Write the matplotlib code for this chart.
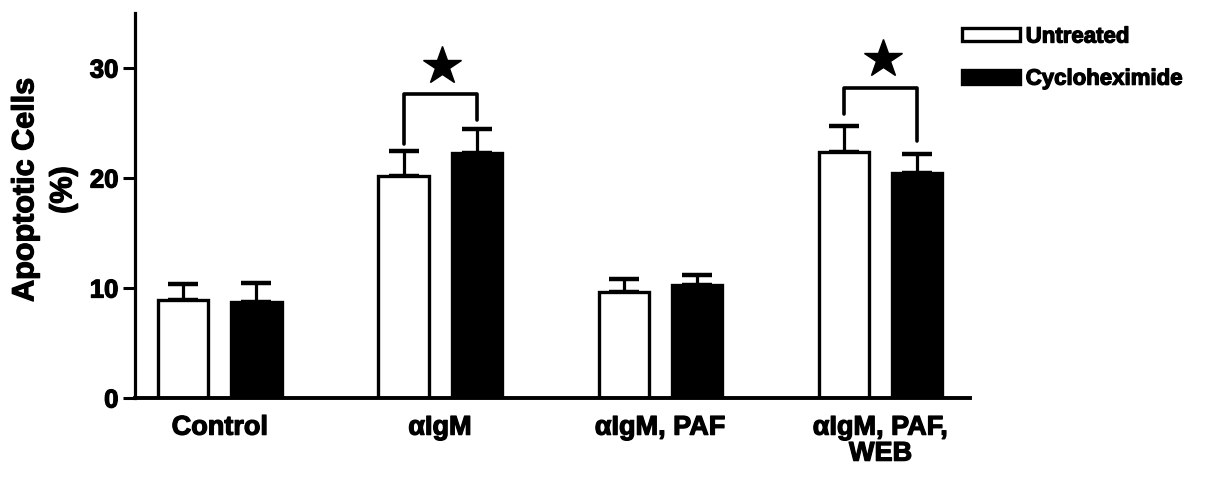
import numpy as np
import matplotlib
matplotlib.use("Agg")
import matplotlib.pyplot as plt
import matplotlib.patheffects as pe

plt.rcParams['font.family'] = ['Liberation Sans', 'DejaVu Sans']
plt.rcParams['font.weight'] = 'bold'

# Data
groups = ["Control", "\u03b1IgM", "\u03b1IgM, PAF", "\u03b1IgM, PAF,\nWEB"]
untreated = [8.9, 20.2, 9.6, 22.4]
untreated_err = [1.5, 2.3, 1.25, 2.35]
cyclo = [8.7, 22.3, 10.25, 20.5]
cyclo_err = [1.8, 2.2, 0.95, 1.7]

# significance brackets: group index, left foot, right foot, top, star height
brackets = [(1, 23.1, 25.3, 27.65, 30.2),
            (3, 25.8, 23.4, 28.2, 30.8)]

x = np.arange(len(groups))
off = 0.166
width = 0.228

heavy = [pe.withStroke(linewidth=0.9, foreground='black')]

fig = plt.figure(figsize=(12.06, 4.83), dpi=100)
ax = fig.add_axes([0.112, 0.176, 0.692, 0.797])

lw = 2.4
ax.bar(x - off, untreated, width, color='white', edgecolor='black', linewidth=lw,
       label='Untreated', zorder=2)
ax.bar(x + off, cyclo, width, color='black', edgecolor='black', linewidth=lw,
       label='Cycloheximide', zorder=2)

zeros = np.zeros(len(groups))
ax.errorbar(x - off, untreated, yerr=[zeros, untreated_err], fmt='none', ecolor='black',
            elinewidth=2.3, capsize=10.8, capthick=3.2, zorder=1)
ax.errorbar(x + off, cyclo, yerr=[zeros, cyclo_err], fmt='none', ecolor='black',
            elinewidth=2.3, capsize=10.8, capthick=3.2, zorder=1)

for gi, yl, yr, top, ystar in brackets:
    ax.plot([gi - off, gi - off, gi + off, gi + off], [yl, top, top, yr], color='black',
            lw=2.6, solid_capstyle='round', solid_joinstyle='round')
    ax.plot(gi + 0.01, ystar, marker='*', color='black', markersize=29, clip_on=False)

ax.set_xlim(-0.385, 3.404)
ax.set_ylim(0, 35)
ax.set_yticks([0, 10, 20, 30])
ax.set_xticks(x)
ax.set_xticklabels(groups, fontsize=19.5, fontweight='bold')
for lab in ax.get_xticklabels():
    lab.set_linespacing(1.0)
    lab.set_path_effects(heavy)
ax.tick_params(axis='x', length=0, pad=12)
ax.tick_params(axis='y', direction='out', length=9, width=2.2, pad=3, labelsize=18.5)
for lab in ax.get_yticklabels():
    lab.set_path_effects(heavy)

for s in ['top', 'right']:
    ax.spines[s].set_visible(False)
ax.spines['left'].set_linewidth(2.3)
ax.spines['bottom'].set_linewidth(2.8)

ax.set_ylabel("Apoptotic Cells\n(%)", fontsize=22, fontweight='bold',
              linespacing=1.35, path_effects=heavy)
ax.yaxis.set_label_coords(-0.068, 0.54)

leg = fig.legend(loc='upper left', bbox_to_anchor=(0.798, 0.945), frameon=False,
                 fontsize=16, handlelength=2.6, handleheight=0.55, handletextpad=0.25,
                 labelspacing=0.95, borderpad=0, borderaxespad=0)
for t in leg.get_texts():
    t.set_path_effects(heavy)

plt.savefig("out.png", dpi=100)
